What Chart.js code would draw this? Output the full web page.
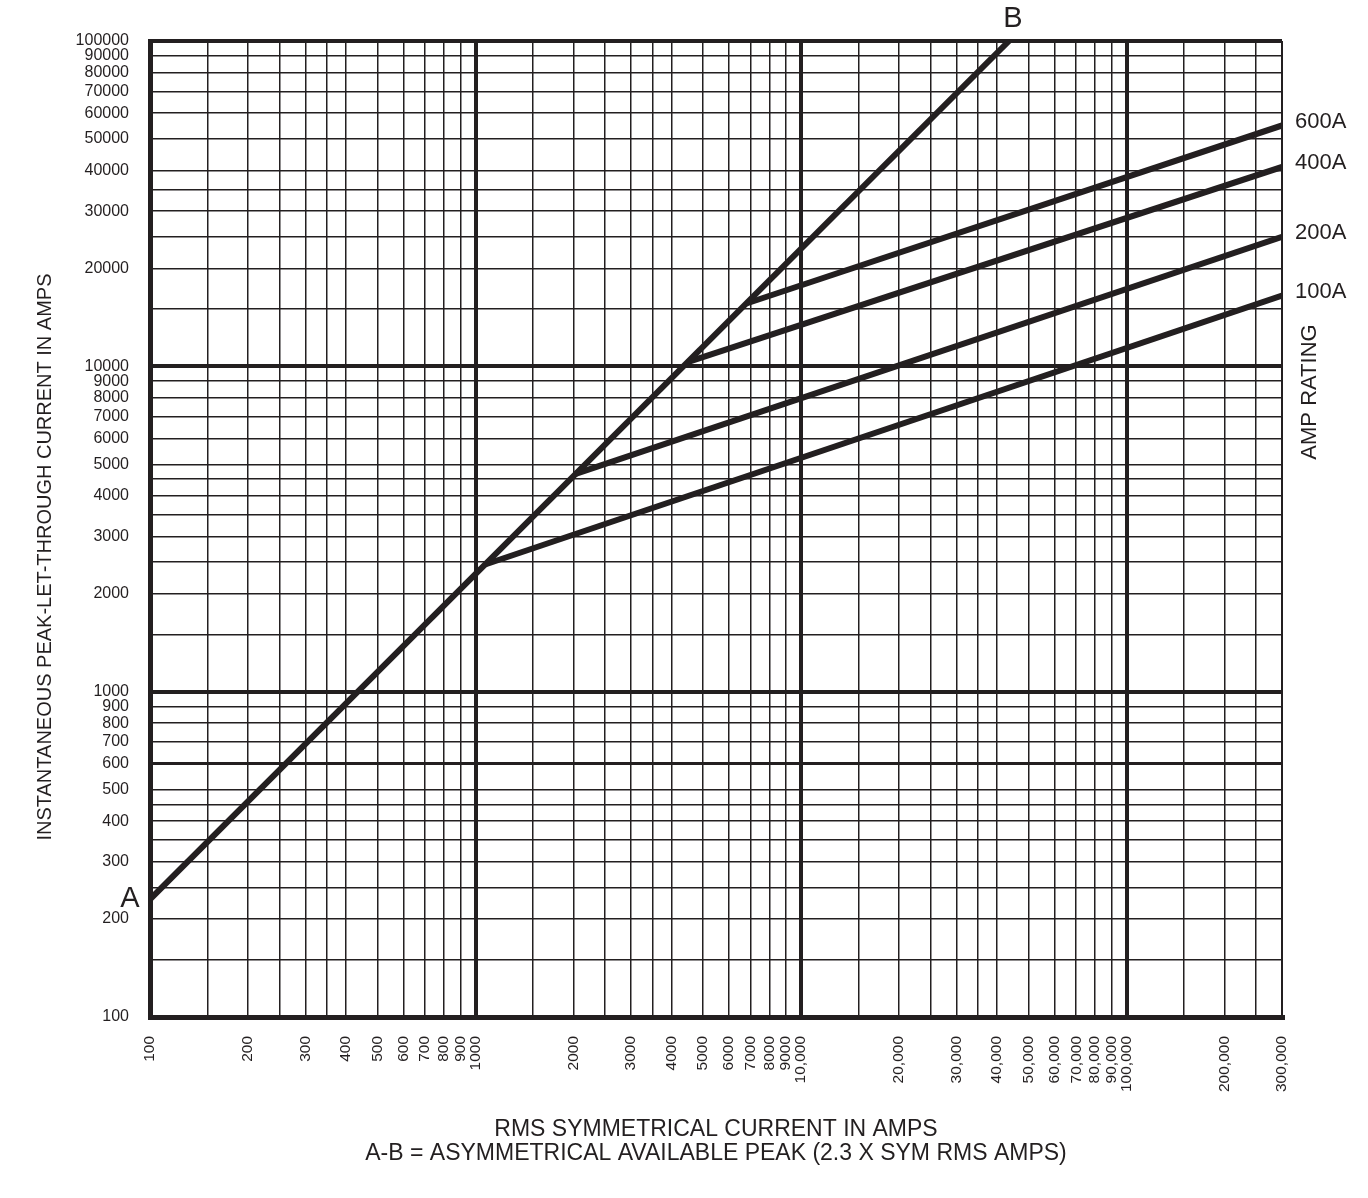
<!DOCTYPE html>
<html>
<head>
<meta charset="utf-8">
<title>Peak let-through current</title>
<script src="https://cdn.jsdelivr.net/npm/chart.js@4.4.1/dist/chart.umd.min.js"></script>
<style>
  html, body { margin: 0; padding: 0; background: #fff; }
  #chart { display: block; }
</style>
</head>
<body>
<canvas id="chart" width="1368" height="1198"></canvas>
<script>
// log paper rulings
var xGrid = [100, 150, 200, 250, 300, 350, 400, 500, 600, 700, 800, 900,
             1000, 1500, 2000, 2500, 3000, 3500, 4000, 5000, 6000, 7000, 8000, 9000,
             10000, 15000, 20000, 25000, 30000, 35000, 40000, 50000, 60000, 70000, 80000, 90000,
             100000, 150000, 200000, 250000, 300000];
var yGrid = [100, 150, 200, 250, 300, 350, 400, 450, 500, 600, 700, 800, 900,
             1000, 1500, 2000, 2500, 3000, 3500, 4000, 4500, 5000, 6000, 7000, 8000, 9000,
             10000, 15000, 20000, 25000, 30000, 35000, 40000, 50000, 60000, 70000, 80000, 90000,
             100000];

var xLabelValues = [100, 200, 300, 400, 500, 600, 700, 800, 900, 1000,
                    2000, 3000, 4000, 5000, 6000, 7000, 8000, 9000, 10000,
                    20000, 30000, 40000, 50000, 60000, 70000, 80000, 90000, 100000,
                    200000, 300000];
var xLabelText = ['100', '200', '300', '400', '500', '600', '700', '800', '900', '1000',
                  '2000', '3000', '4000', '5000', '6000', '7000', '8000', '9000', '10,000',
                  '20,000', '30,000', '40,000', '50,000', '60,000', '70,000', '80,000', '90,000', '100,000',
                  '200,000', '300,000'];
var yLabelValues = [100, 200, 300, 400, 500, 600, 700, 800, 900, 1000,
                    2000, 3000, 4000, 5000, 6000, 7000, 8000, 9000, 10000,
                    20000, 30000, 40000, 50000, 60000, 70000, 80000, 90000, 100000];

// A-B = asymmetrical available peak
var abX = [100, 43500];
var abY = [230, 100000];

// let-through lines, from the knee on A-B out to 300,000 A
var ratings = ['100A', '200A', '400A', '600A'];
var kneeX = [1070, 2030, 4480, 6790];
var kneeY = [2460, 4670, 10300, 15600];
var endX = 300000;
var endY = [16500, 25000, 41000, 55000];

var ink = '#231f20';
var font = '"Liberation Sans", Arial, Helvetica, sans-serif';

function xWidth(v) {
    if (v == 100) return 5;
    if (v == 300000) return 2;
    if (v == 1000 || v == 10000 || v == 100000) return 4;
    return 1.5;
}
function yWidth(v) {
    if (v == 100) return 5;
    if (v == 1000 || v == 10000 || v == 100000) return 4;
    if (v == 600) return 3;
    return 1.5;
}

var datasets = [{
    label: 'A-B',
    data: abX.map(function(x, i) { return {x: x, y: abY[i]}; })
}];
ratings.forEach(function(r, i) {
    datasets.push({
        label: r,
        data: [{x: kneeX[i], y: kneeY[i]}, {x: endX, y: endY[i]}]
    });
});
datasets.forEach(function(d) {
    d.showLine = true;
    d.borderColor = ink;
    d.borderWidth = 6;
    d.pointRadius = 0;
    d.fill = false;
});

var notes = {
    id: 'notes',
    afterDraw: function(chart) {
        var ctx = chart.ctx, xs = chart.scales.x, ys = chart.scales.y, area = chart.chartArea;
        ctx.save();
        ctx.fillStyle = ink;
        ctx.textBaseline = 'middle';

        ctx.textAlign = 'center';
        ctx.font = '29px ' + font;
        ctx.fillText('A', area.left - 20, ys.getPixelForValue(abY[0]));
        ctx.fillText('B', xs.getPixelForValue(abX[1]) + 4, area.top - 22);

        ctx.textAlign = 'left';
        ctx.font = '22px ' + font;
        ratings.forEach(function(r, i) {
            ctx.fillText(r, area.right + 13, ys.getPixelForValue(endY[i]) - 4);
        });

        ctx.textAlign = 'center';
        ctx.save();
        ctx.translate(area.right + 28, 392);
        ctx.rotate(-Math.PI / 2);
        ctx.fillText('AMP RATING', 0, 0);
        ctx.restore();

        ctx.font = '20px ' + font;
        ctx.save();
        ctx.translate(45, 557);
        ctx.rotate(-Math.PI / 2);
        ctx.fillText('INSTANTANEOUS PEAK-LET-THROUGH CURRENT IN AMPS', 0, 0);
        ctx.restore();

        ctx.restore();
    }
};

var ctx = document.getElementById('chart').getContext('2d');
var chart = new Chart(ctx, {
    type: 'scatter',
    data: { datasets: datasets },
    plugins: [notes],
    options: {
        responsive: false,
        devicePixelRatio: 1,
        animation: false,
        events: [],
        layout: { padding: { left: 0, top: 41, right: 86, bottom: 0 } },
        plugins: {
            legend: { display: false },
            tooltip: { enabled: false }
        },
        scales: {
            x: {
                type: 'logarithmic',
                min: 100,
                max: 300000,
                afterBuildTicks: function(scale) {
                    scale.ticks = xGrid.map(function(v) { return {value: v}; });
                },
                afterFit: function(scale) { scale.height = 181; },
                grid: {
                    color: ink,
                    drawTicks: false,
                    lineWidth: function(c) { return c.tick ? xWidth(c.tick.value) : 1.5; }
                },
                border: { display: true, color: ink, width: 5 },
                ticks: {
                    autoSkip: false,
                    minRotation: 90,
                    maxRotation: 90,
                    padding: 19,
                    color: ink,
                    font: { family: font, size: 15.5 },
                    callback: function(v) {
                        var i = xLabelValues.indexOf(v);
                        return i < 0 ? '' : xLabelText[i];
                    }
                },
                title: {
                    display: true,
                    text: ['RMS SYMMETRICAL CURRENT IN AMPS',
                           'A-B = ASYMMETRICAL AVAILABLE PEAK (2.3 X SYM RMS AMPS)'],
                    color: ink,
                    font: { family: font, size: 23, lineHeight: 1.05 },
                    padding: { top: 0, bottom: 32 }
                }
            },
            y: {
                type: 'logarithmic',
                min: 100,
                max: 100000,
                afterBuildTicks: function(scale) {
                    scale.ticks = yGrid.map(function(v) { return {value: v}; });
                },
                afterFit: function(scale) { scale.width = 150; },
                grid: {
                    color: ink,
                    drawTicks: false,
                    lineWidth: function(c) { return c.tick ? yWidth(c.tick.value) : 1.5; }
                },
                border: { display: true, color: ink, width: 5 },
                ticks: {
                    autoSkip: false,
                    padding: 21,
                    color: ink,
                    font: { family: font, size: 16 },
                    callback: function(v) {
                        return yLabelValues.indexOf(v) < 0 ? '' : String(v);
                    }
                }
            }
        }
    }
});
</script>
</body>
</html>
